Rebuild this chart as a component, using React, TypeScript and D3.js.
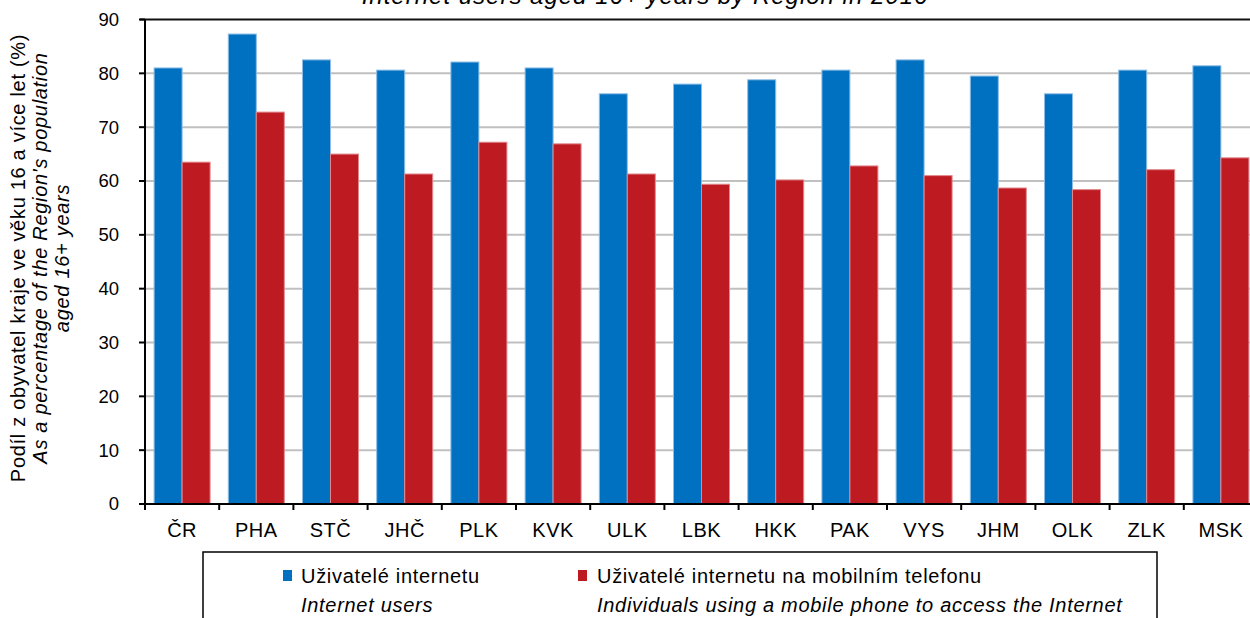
import React from 'react';
import * as d3 from 'd3';

const regions = ['ČR', 'PHA', 'STČ', 'JHČ', 'PLK', 'KVK', 'ULK', 'LBK', 'HKK', 'PAK', 'VYS', 'JHM', 'OLK', 'ZLK', 'MSK'];
const internetUsers = [81.0, 87.3, 82.5, 80.6, 82.1, 81.0, 76.2, 78.0, 78.8, 80.6, 82.5, 79.5, 76.2, 80.6, 81.4];
const mobileUsers = [63.5, 72.8, 65.0, 61.3, 67.2, 66.9, 61.3, 59.4, 60.2, 62.8, 61.0, 58.7, 58.4, 62.1, 64.3];
const yTicks = [0, 10, 20, 30, 40, 50, 60, 70, 80, 90];
const seriesKeys = ['internet', 'mobile'];
const seriesColors = ['#0070C0', '#BE1A22'];
const seriesEdges = ['#8DBDE6', '#E0888C'];

const W = 1250;
const H = 618;
const FONT = '"Liberation Sans", Arial, sans-serif';

export default function App() {
  const left = 145;
  const top = 19.5;
  const bottom = 504;
  const step = 74.2;

  // osy
  const x = d3.scaleBand<string>()
    .domain(regions)
    .range([left, left + step * regions.length])
    .padding(0);
  const xSub = d3.scaleBand<string>()
    .domain(seriesKeys)
    .range([9.1, x.bandwidth() - 9.1]);
  const y = d3.scaleLinear().domain([0, 90]).range([bottom, top]);

  const values = [internetUsers, mobileUsers];
  const yTitleY = 258;

  return (
    <div style={{ position: 'absolute', left: 0, top: 0 }}>
      <svg width={W} height={H} style={{ display: 'block', background: '#fff' }} fontFamily={FONT}>
        {/* titulek (oříznutý nahoře) */}
        <text x={645} y={4} textAnchor="middle" fontSize={24} letterSpacing={1} fontStyle="italic" fill="#000">
          Internet users aged 16+ years by Region in 2016
        </text>

        {/* mřížka */}
        {yTicks.filter(t => t > 0 && t < 90).map(t => (
          <line key={t} x1={left} x2={W} y1={y(t)} y2={y(t)} stroke="#C0C0C0" strokeWidth={2} />
        ))}
        <line x1={left - 5} x2={W} y1={y(90)} y2={y(90)} stroke="#111" strokeWidth={2} />

        {/* sloupce */}
        {regions.map((r, i) => (
          <g key={r} transform={`translate(${x(r)},0)`}>
            {seriesKeys.map((s, j) => {
              const v = values[j][i];
              return (
                <rect
                  key={s}
                  x={xSub(s)}
                  y={y(v)}
                  width={xSub.bandwidth()}
                  height={y(0) - y(v)}
                  fill={seriesColors[j]}
                  stroke={seriesEdges[j]}
                  strokeWidth={1}
                />
              );
            })}
          </g>
        ))}

        {/* osa y */}
        <line x1={left} x2={left} y1={top} y2={bottom} stroke="#000" strokeWidth={2} />
        {yTicks.map(t => (
          <g key={t}>
            <line x1={left - 6} x2={left} y1={y(t)} y2={y(t)} stroke="#000" strokeWidth={2} />
            <text x={119} y={y(t)} dy="0.35em" textAnchor="end" fontSize={18.5} fill="#000">{t}</text>
          </g>
        ))}

        {/* osa x */}
        <line x1={left} x2={W} y1={bottom} y2={bottom} stroke="#000" strokeWidth={2} />
        {regions.map(r => (
          <g key={r}>
            <line x1={x(r)!} x2={x(r)!} y1={bottom} y2={bottom + 6} stroke="#000" strokeWidth={2} />
            <text x={x(r)! + x.bandwidth() / 2} y={537} textAnchor="middle" fontSize={20} letterSpacing={0.5} fill="#000">{r}</text>
          </g>
        ))}

        {/* popisek osy y */}
        <g transform={`translate(0,${yTitleY}) rotate(-90)`} fontSize={20} letterSpacing={0.7} textAnchor="middle" fill="#000">
          <text x={0} y={25}>Podíl  z obyvatel kraje ve věku 16 a více let (%)</text>
          <text x={0} y={47} fontStyle="italic">As a percentage of the Region's population</text>
          <text x={0} y={69} fontStyle="italic">aged 16+ years</text>
        </g>

        {/* legenda */}
        <g fontSize={20} letterSpacing={0.7} fill="#000">
          <rect x={203} y={552} width={954} height={80} fill="#fff" stroke="#000" strokeWidth={1.5} />
          <rect x={283} y={570} width={9} height={11} fill={seriesColors[0]} />
          <text x={301} y={583}>Uživatelé internetu</text>
          <text x={301} y={612} fontStyle="italic">Internet users</text>
          <rect x={578} y={570} width={9} height={11} fill={seriesColors[1]} />
          <text x={597} y={583}>Uživatelé internetu na mobilním telefonu</text>
          <text x={597} y={612} fontStyle="italic">Individuals using a mobile phone to access the Internet</text>
        </g>
      </svg>
    </div>
  );
}
